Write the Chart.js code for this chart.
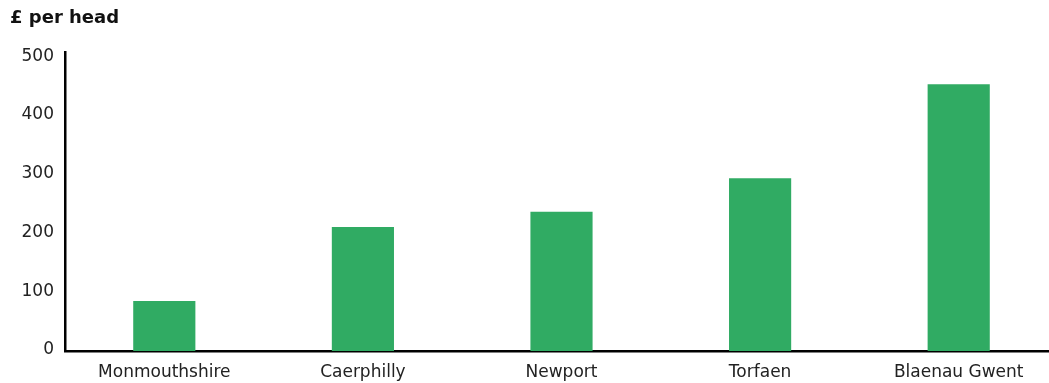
<!DOCTYPE html>
<html>
<head>
<meta charset="utf-8">
<script src="https://cdn.jsdelivr.net/npm/chart.js@4.4.1/dist/chart.umd.min.js"></script>
<style>
  html, body { margin: 0; padding: 0; background: #ffffff; overflow: hidden; }
  #wrap { width: 1049px; height: 383px; position: relative; overflow: hidden; }
  canvas { display: block; }
</style>
</head>
<body>
<div id="wrap"><canvas id="c" width="1058" height="383" style="width:1058px;height:383px"></canvas></div>
<script>
const categories = ["Monmouthshire", "Caerphilly", "Newport", "Torfaen", "Blaenau Gwent"];
const perHead = [85, 211, 237, 294, 454];
const yTicks = [0, 100, 200, 300, 400, 500];
const yTitle = "£ per head";

const FONT = "'DejaVu Sans', 'Noto Sans', sans-serif";

new Chart(document.getElementById('c'), {
  type: 'bar',
  data: {
    labels: categories,
    datasets: [{
      data: perHead,
      backgroundColor: '#30AB63',
      borderWidth: 0,
      barPercentage: 0.313,
      categoryPercentage: 1.0
    }]
  },
  options: {
    responsive: false,
    animation: false,
    layout: { padding: { left: 10, right: 0, top: 0, bottom: 0 } },
    plugins: {
      legend: { display: false },
      tooltip: { enabled: false },
      title: {
        display: true,
        text: yTitle,
        align: 'start',
        color: '#111111',
        font: { family: FONT, size: 18, weight: 'bold' },
        padding: { top: 8, bottom: 22.4 }
      }
    },
    scales: {
      x: {
        grid: { display: false, drawTicks: false },
        border: { display: true, color: '#000000', width: 2.5 },
        ticks: { color: '#222222', font: { family: FONT, size: 17 }, padding: 11, maxRotation: 0 },
        afterFit: s => { s.height = 32; }
      },
      y: {
        min: 0,
        max: 509,
        afterBuildTicks: s => { s.ticks = yTicks.map(v => ({ value: v })); },
        grid: { display: false, drawTicks: false },
        border: { display: true, color: '#000000', width: 2.5 },
        ticks: { color: '#222222', font: { family: FONT, size: 17 }, padding: 11, labelOffset: -1 },
        afterFit: s => { s.width = 55; }
      }
    }
  }
});
</script>
</body>
</html>
